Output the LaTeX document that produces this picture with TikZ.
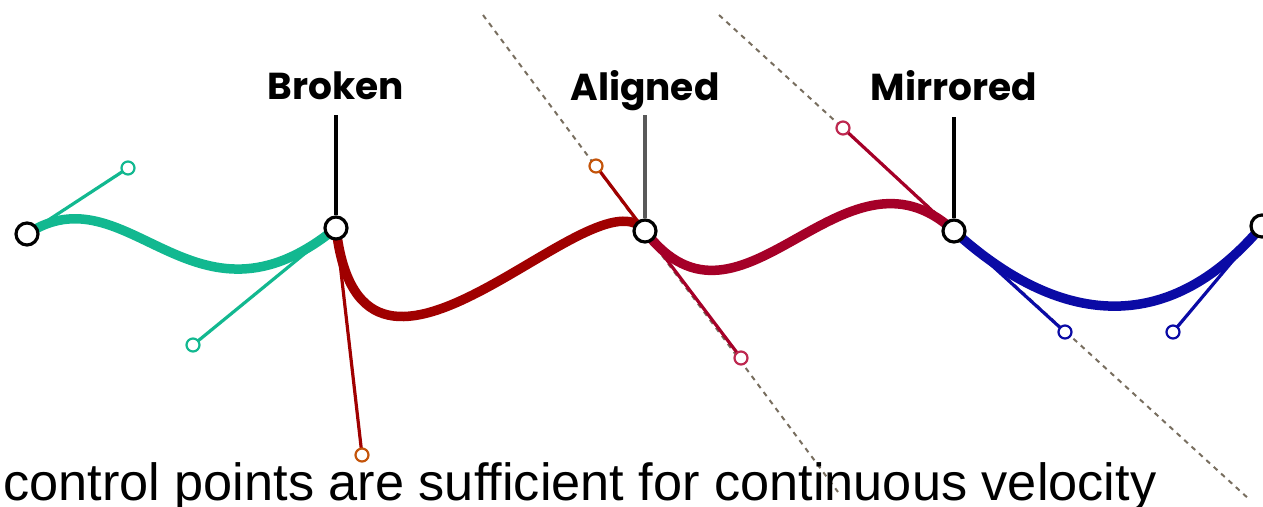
\documentclass[tikz,border=0pt]{standalone}
\usepackage{fontspec}
\newfontfamily\labelfont{Poppins}
\newfontfamily\bodyfont{Liberation Sans}
\definecolor{cgreen}{RGB}{18,184,144}
\definecolor{cred}{RGB}{160,0,0}
\definecolor{corange}{RGB}{196,84,10}
\definecolor{ccrimson}{RGB}{165,0,40}
\definecolor{cpink}{RGB}{190,40,80}
\definecolor{cblue}{RGB}{10,10,165}
\definecolor{cdot}{RGB}{120,110,95}
\tikzset{
  anchorpt/.style={circle,draw=black,fill=white,line width=3.2pt,minimum size=22pt,inner sep=0pt},
  ctrlpt/.style={circle,fill=white,line width=2.2pt,minimum size=13pt,inner sep=0pt},
  curveline/.style={line width=9.5pt},
  handleline/.style={line width=3.2pt},
  guideline/.style={draw=cdot,line width=2pt,dash pattern=on 5pt off 5pt},
  labeltext/.style={font=\labelfont\bfseries\fontsize{37.5}{40}\selectfont,anchor=base,inner sep=0pt},
  stemline/.style={line width=3.4pt,draw=black}
}
\begin{document}
\begin{tikzpicture}[x=1pt,y=-1pt]
\useasboundingbox (0,0) rectangle (1263,506);
% positions
\coordinate (A0) at (27,234);
\coordinate (A1) at (336,228);
\coordinate (A2) at (645,231);
\coordinate (A3) at (954,231);
\coordinate (A4) at (1262,226);
\coordinate (G1) at (128,168);
\coordinate (G2) at (193,345);
\coordinate (R1) at (362,455);
\coordinate (R2) at (596,166);
\coordinate (C1) at (741,358);
\coordinate (C2) at (843,128);
\coordinate (B1) at (1065,332);
\coordinate (B2) at (1173,332);
\coordinate (D1a) at (483,15);
\coordinate (D1b) at (838,492);
\coordinate (D2a) at (719,15);
\coordinate (D2b) at (1250,500);
% guide lines
\draw[guideline] (D1a) -- (D1b);
\draw[guideline] (D2a) -- (D2b);
% handles
\draw[handleline,cgreen] (A0) -- (G1);
\draw[handleline,cgreen] (A1) -- (G2);
\draw[handleline,cred] (A1) -- (R1);
\draw[handleline,cred] (A2) -- (R2);
\draw[handleline,ccrimson] (A2) -- (C1);
\draw[handleline,ccrimson] (A3) -- (C2);
\draw[handleline,cblue] (A3) -- (B1);
\draw[handleline,cblue] (A4) -- (B2);
% curves
\draw[curveline,cgreen] (A0) .. controls (G1) and (G2) .. (A1);
\draw[curveline,cred] (A1) .. controls (R1) and (R2) .. (A2);
\draw[curveline,ccrimson] (A2) .. controls (C1) and (C2) .. (A3);
\draw[curveline,cblue] (A3) .. controls (B1) and (B2) .. (A4);
% control points
\node[ctrlpt,draw=cgreen] (g1) at (G1) {};
\node[ctrlpt,draw=cgreen] (g2) at (G2) {};
\node[ctrlpt,draw=corange] (r1) at (R1) {};
\node[ctrlpt,draw=corange] (r2) at (R2) {};
\node[ctrlpt,draw=cpink] (c1) at (C1) {};
\node[ctrlpt,draw=cpink] (c2) at (C2) {};
\node[ctrlpt,draw=cblue] (b1) at (B1) {};
\node[ctrlpt,draw=cblue] (b2) at (B2) {};
% anchor points
\node[anchorpt] (a0) at (A0) {};
\node[anchorpt] (a1) at (A1) {};
\node[anchorpt] (a2) at (A2) {};
\node[anchorpt] (a3) at (A3) {};
\node[anchorpt] (a4) at (A4) {};
% labels
\node[labeltext] (l1) at (336,99) {Broken};
\node[labeltext] (l2) at (645,100) {Aligned};
\node[labeltext] (l3) at (954,100) {Mirrored};
\coordinate (s1) at (336,115);
\coordinate (s2) at (645,115);
\coordinate (s3) at (954,117);
\draw[stemline] (s1) -- (a1.north);
\draw[stemline,draw=black!65] (s2) -- (a2.north);
\draw[stemline] (s3) -- (a3.north);
% caption
\node[anchor=base west,inner sep=0pt,font=\bodyfont\fontsize{52.3}{60}\selectfont] (cap) at (3,500) {control points are sufficient for continuous velocity};
\end{tikzpicture}
\end{document}
